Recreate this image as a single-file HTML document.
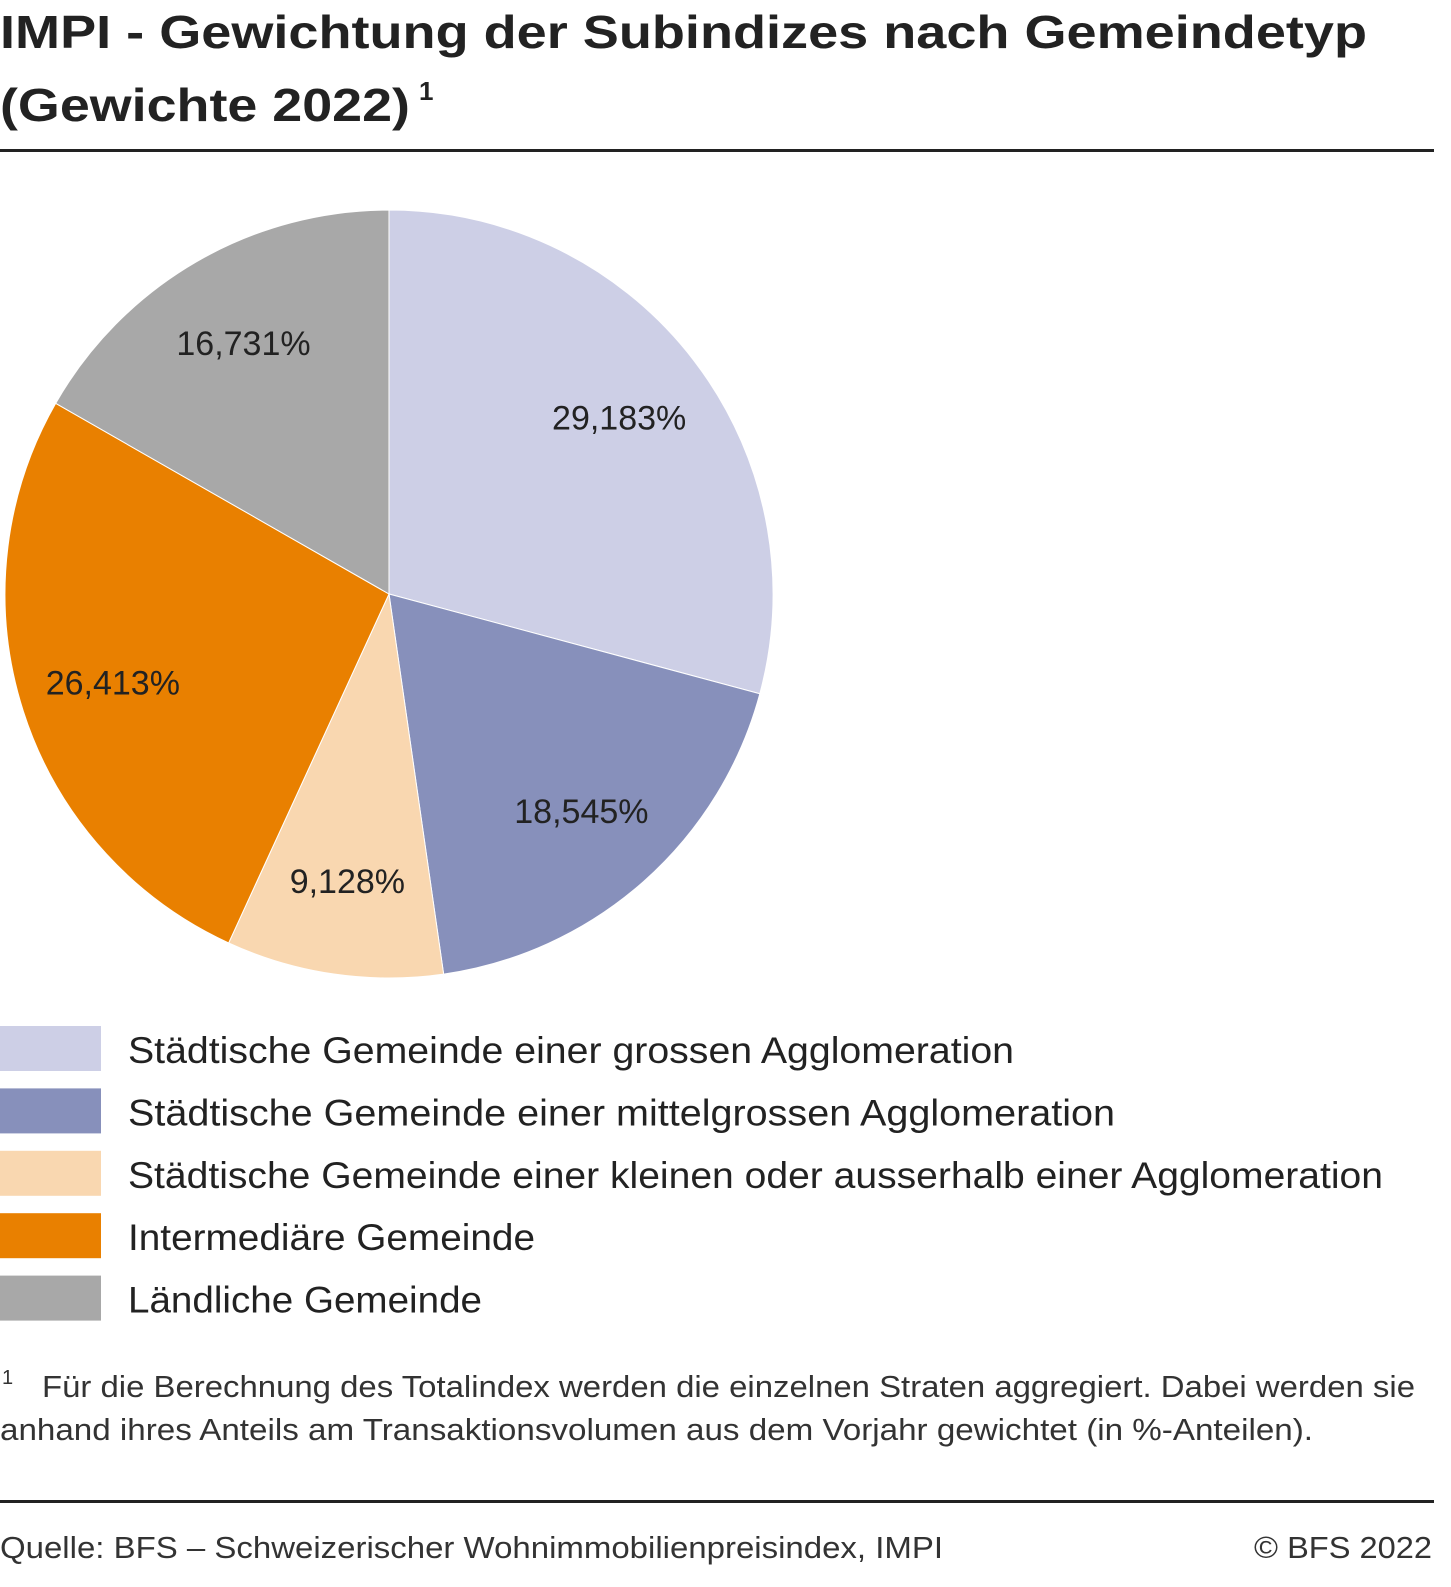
<!DOCTYPE html>
<html><head><meta charset="utf-8">
<style>
html,body{margin:0;padding:0;background:#fff;}
svg{display:block;font-family:"Liberation Sans",sans-serif;}
</style></head>
<body>
<svg id="chart" width="1451" height="1587" viewBox="0 0 1451 1587">
<text x="0" y="48" font-size="46" font-weight="bold" fill="#222" textLength="1367" lengthAdjust="spacingAndGlyphs">IMPI - Gewichtung der Subindizes nach Gemeindetyp</text>
<text x="0" y="121" font-size="46" font-weight="bold" fill="#222" textLength="410" lengthAdjust="spacingAndGlyphs">(Gewichte 2022)</text>
<text x="419" y="100" font-size="26" font-weight="bold" fill="#222">1</text>
<rect x="0" y="149" width="1434" height="3" fill="#222"/>
<g id="slices"></g>
<g id="labels"></g>
<g id="legend"></g>
<text x="2" y="1384" font-size="20" fill="#333">1</text>
<text x="42" y="1397" font-size="31" fill="#333" textLength="1373" lengthAdjust="spacingAndGlyphs">Für die Berechnung des Totalindex werden die einzelnen Straten aggregiert. Dabei werden sie</text>
<text x="0" y="1440" font-size="31" fill="#333" textLength="1313" lengthAdjust="spacingAndGlyphs">anhand ihres Anteils am Transaktionsvolumen aus dem Vorjahr gewichtet (in %-Anteilen).</text>
<rect x="0" y="1500" width="1434" height="3" fill="#222"/>
<text x="0" y="1558" font-size="31" fill="#333" textLength="943" lengthAdjust="spacingAndGlyphs">Quelle: BFS – Schweizerischer Wohnimmobilienpreisindex, IMPI</text>
<text x="1432" y="1558" font-size="31" fill="#333" text-anchor="end" textLength="178" lengthAdjust="spacingAndGlyphs">© BFS 2022</text>
</svg>
<script>
const categories = ["Städtische Gemeinde einer grossen Agglomeration","Städtische Gemeinde einer mittelgrossen Agglomeration","Städtische Gemeinde einer kleinen oder ausserhalb einer Agglomeration","Intermediäre Gemeinde","Ländliche Gemeinde"];
const values = [29.183, 18.545, 9.128, 26.413, 16.731];
const valueLabels = ["29,183%","18,545%","9,128%","26,413%","16,731%"];
const colors = ["#cdcfe6","#8790bb","#f9d7b0","#e98000","#a8a8a8"];
const legendWidths = [886, 987, 1255, 407, 354];

const NS="http://www.w3.org/2000/svg";
const cx=389, cy=594, R=384, LR=290;
const total=values.reduce((a,b)=>a+b,0);
const slicesG=document.getElementById('slices'), labelsG=document.getElementById('labels'), legendG=document.getElementById('legend');
function pt(a,r){return [cx+r*Math.sin(a), cy-r*Math.cos(a)];}
let acc=0;
values.forEach((v,i)=>{
  const a0=acc/total*2*Math.PI; acc+=v; const a1=acc/total*2*Math.PI;
  const p0=pt(a0,R), p1=pt(a1,R);
  const path=document.createElementNS(NS,'path');
  path.setAttribute('d',`M${cx},${cy} L${p0[0]},${p0[1]} A${R},${R} 0 ${a1-a0>Math.PI?1:0} 1 ${p1[0]},${p1[1]} Z`);
  path.setAttribute('fill',colors[i]);
  path.setAttribute('stroke','#fff'); path.setAttribute('stroke-width','1');
  
  
  slicesG.appendChild(path);
  const lp=pt((a0+a1)/2,LR);
  const t=document.createElementNS(NS,'text');
  t.setAttribute('x',lp[0]); t.setAttribute('y',lp[1]+12);
  t.setAttribute('text-anchor','middle'); t.setAttribute('font-size','34'); t.setAttribute('fill','#222');
  t.textContent=valueLabels[i];
  
  
  labelsG.appendChild(t);
  const y=1026+i*62.4;
  const sw=document.createElementNS(NS,'rect');
  sw.setAttribute('x',0); sw.setAttribute('y',y); sw.setAttribute('width',101); sw.setAttribute('height',45); sw.setAttribute('fill',colors[i]);
  
  
  legendG.appendChild(sw);
  const lt=document.createElementNS(NS,'text');
  lt.setAttribute('x',128); lt.setAttribute('y',y+37); lt.setAttribute('font-size','37'); lt.setAttribute('fill','#222');
  lt.setAttribute('textLength',legendWidths[i]); lt.setAttribute('lengthAdjust','spacingAndGlyphs');
  lt.textContent=categories[i];
  
  
  legendG.appendChild(lt);
});
</script>
</body></html>
